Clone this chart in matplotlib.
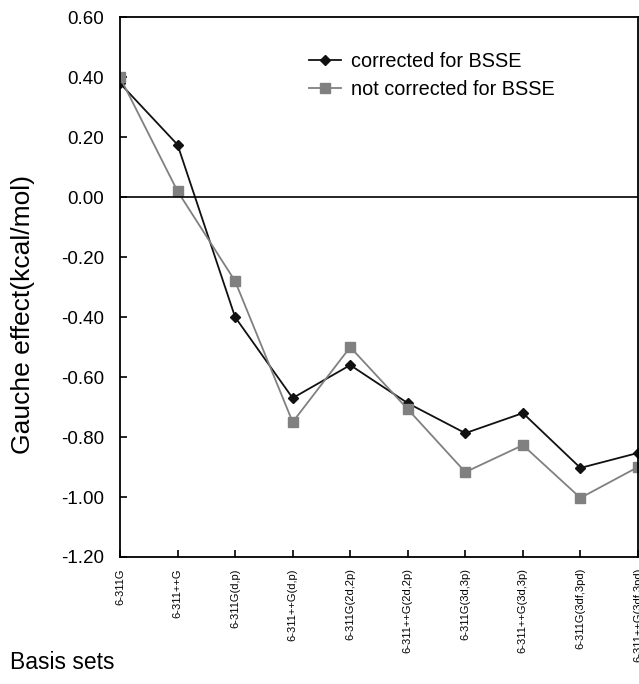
import numpy as np
import matplotlib
matplotlib.use('Agg')
import matplotlib.pyplot as plt

plt.rcParams['font.family'] = ['Liberation Sans', 'DejaVu Sans']

basis_sets = ['6-311G', '6-311++G', '6-311G(d,p)', '6-311++G(d,p)',
              '6-311G(2d,2p)', '6-311++G(2d,2p)', '6-311G(3d,3p)',
              '6-311++G(3d,3p)', '6-311G(3df,3pd)', '6-311++G(3df,3pd)']
corrected = [0.38, 0.175, -0.40, -0.67, -0.56, -0.687, -0.787, -0.72, -0.903, -0.853]
not_corrected = [0.40, 0.02, -0.28, -0.75, -0.50, -0.707, -0.917, -0.827, -1.003, -0.90]
yticks = np.round(np.arange(-1.2, 0.61, 0.2), 2)

fig = plt.figure(figsize=(6.39, 6.84), dpi=100)
ax = fig.add_axes([0.1878, 0.1857, 0.8106, 0.789])

x = np.arange(len(basis_sets))
ax.plot(x, corrected, color='#111111', lw=1.3, marker='D', ms=5,
        label='corrected for BSSE')
ax.plot(x, not_corrected, color='#808080', lw=1.3, marker='s', ms=7,
        label='not corrected for BSSE')
ax.axhline(0, color='black', lw=1.2)

ax.set_xlim(0, len(basis_sets) - 1)
ax.set_ylim(-1.2, 0.6)
ax.set_yticks(yticks)
ax.set_yticklabels(['%.2f' % (v + 0.0) for v in yticks], fontsize=13.5)
ax.set_xticks(x)
ax.set_xticklabels(basis_sets, rotation=90, fontsize=8, va='top')
ax.tick_params(direction='in', length=5, width=1.2)
ax.tick_params(axis='y', pad=11.5)
ax.tick_params(axis='x', pad=8)
for s in ax.spines.values():
    s.set_linewidth(1.3)

ax.set_ylabel('Gauche effect(kcal/mol)', fontsize=19)
ax.yaxis.set_label_coords(-0.164, 0.45)
fig.text(0.016, 0.022, 'Basis sets', fontsize=16.5)

ax.legend(loc='upper left', bbox_to_anchor=(0.331, 0.968), frameon=False,
          fontsize=14.3, handlelength=1.6, handletextpad=0.5,
          labelspacing=0.45)

fig.savefig('out.png', dpi=100)
